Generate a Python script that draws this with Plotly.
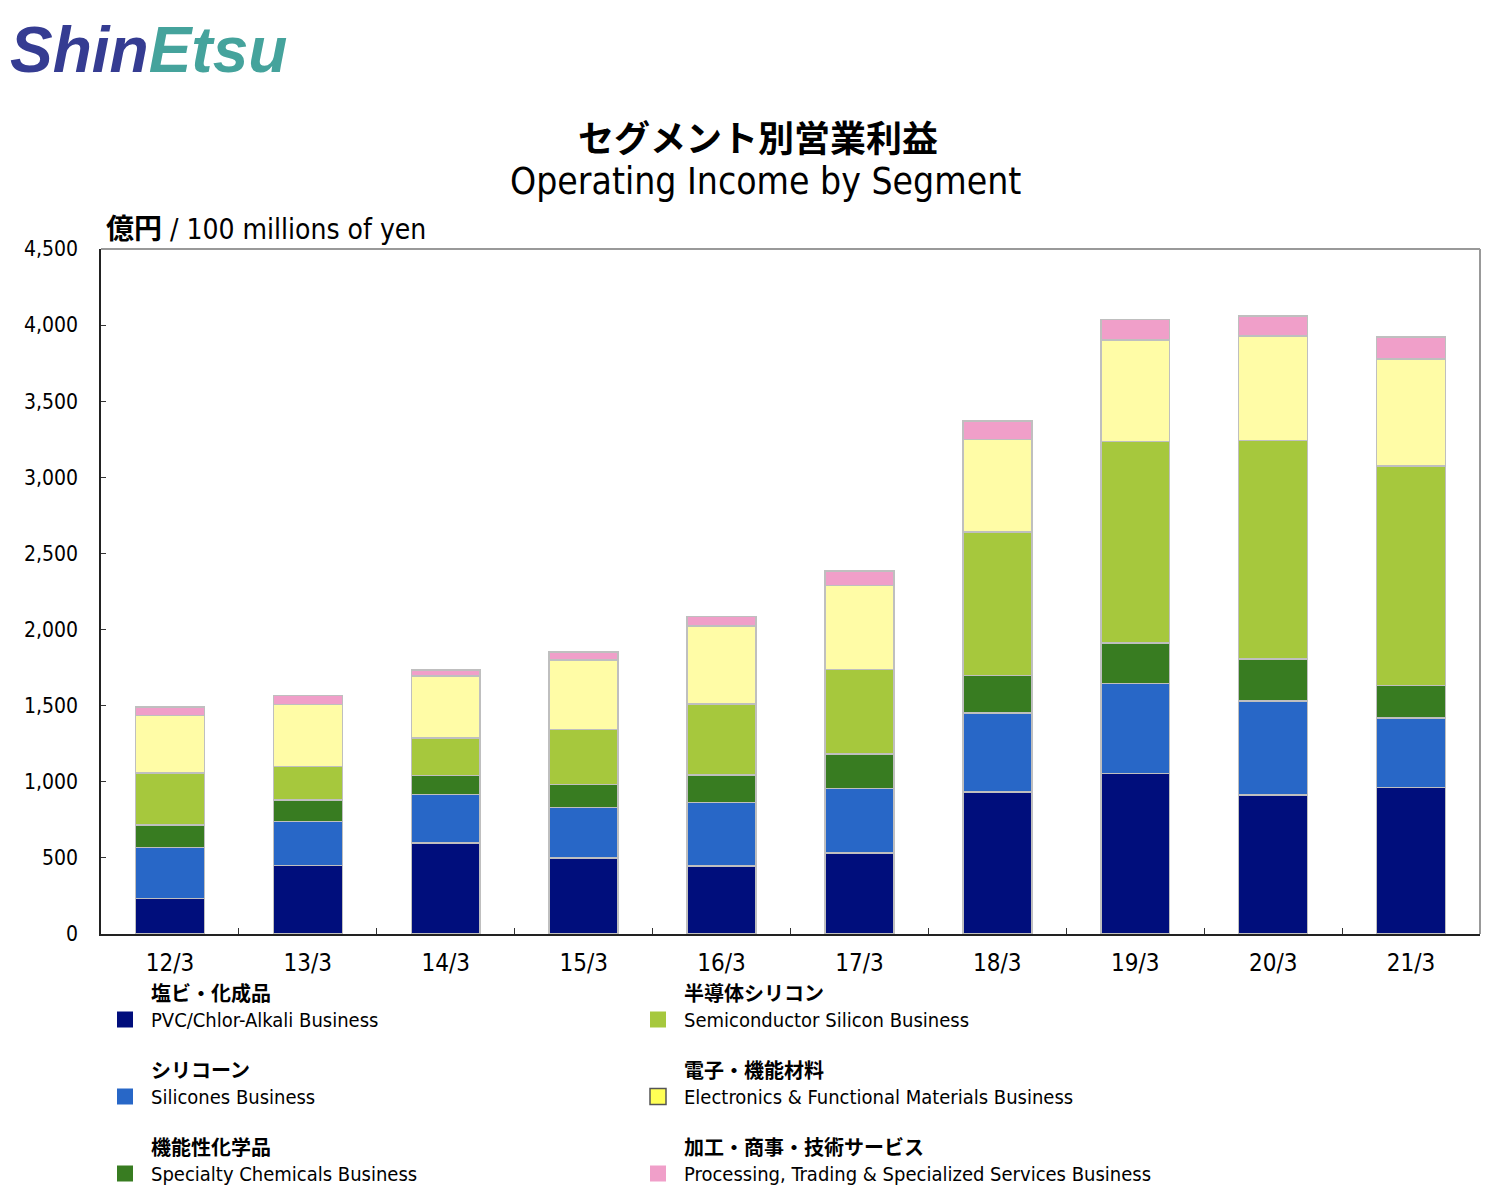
import plotly.graph_objs as go

# data (億円)
years = ['12/3', '13/3', '14/3', '15/3', '16/3', '17/3', '18/3', '19/3', '20/3', '21/3']
pvc = [233, 451, 598, 500, 446, 532, 932, 1056, 913, 962]
silicones = [336, 287, 319, 332, 418, 423, 520, 591, 618, 456]
specialty = [147, 142, 125, 149, 181, 226, 245, 265, 274, 215]
semicon = [343, 221, 245, 361, 466, 558, 943, 1325, 1437, 1442]
electronics = [376, 406, 409, 457, 513, 550, 610, 666, 685, 702]
processing = [55, 59, 37, 54, 61, 97, 120, 134, 133, 145]

names = ['<b>塩ビ・化成品</b><br>PVC/Chlor-Alkali Business',
         '<b>シリコーン</b><br>Silicones Business',
         '<b>機能性化学品</b><br>Specialty Chemicals Business',
         '<b>半導体シリコン</b><br>Semiconductor Silicon Business',
         '<b>電子・機能材料</b><br>Electronics & Functional Materials Business',
         '<b>加工・商事・技術サービス</b><br>Processing, Trading & Specialized Services Business']
colors = ['#000E7C', '#2867C7', '#387C21', '#A6C83D', '#FFFCA6', '#F09FC9']
legend_colors = ['#000E7C', '#2867C7', '#387C21', '#A6C83D', '#FFFF55', '#F09FC9']
series = [pvc, silicones, specialty, semicon, electronics, processing]

FONT = 'DejaVu Sans Condensed, Noto Sans CJK JP, sans-serif'

# page body has an 8px margin, so work in screen pixels and shift
OFF = 8
W, H = 1494 - 2 * OFF, 1196 - 2 * OFF
L, R, T, B = 101, 1480, 249, 934
def px(x):
    return (x - L) / (R - L)
def py(y):
    return (B - y) / (B - T)

data = []
for i, (n, c, s) in enumerate(zip(names, colors, series)):
    data.append(go.Bar(x=years, y=s, name=n, showlegend=False, legendgroup='g%d' % i,
                       marker=dict(color=c, line=dict(color='#BFBFBF', width=1.5))))
# legend entries (square swatches)
for i, (n, c) in enumerate(zip(names, legend_colors)):
    data.append(go.Scatter(x=[None], y=[None], mode='markers', name=n, legendgroup='g%d' % i,
                           legend='legend' if i < 3 else 'legend2',
                           marker=dict(symbol='square', size=16, color=c,
                                       line=dict(color='#555555' if i == 4 else c, width=1.5 if i == 4 else 0))))

leg = dict(orientation='v', traceorder='grouped', tracegroupgap=22, valign='bottom', itemwidth=42,
           font=dict(family=FONT, size=20, color='black'), bgcolor='rgba(0,0,0,0)',
           xanchor='left', yanchor='top')

def note(text, x, y, size, xanchor='center', family=FONT):
    return dict(text=text, x=px(x), y=py(y), xref='paper', yref='paper', xanchor=xanchor, yanchor='middle',
                showarrow=False, font=dict(family=family, size=size, color='black'))

layout = go.Layout(
    width=W, height=H,
    margin={'l': L - OFF, 'r': W - (R - OFF), 't': T - OFF, 'b': H - (B - OFF), 'autoexpand': False},
    paper_bgcolor='white', plot_bgcolor='white',
    barmode='stack', bargap=0.5,
    font=dict(family=FONT, size=22, color='black'),
    xaxis=dict(showline=True, linecolor='#222222', linewidth=1.5,
               ticks='inside', tickson='boundaries', ticklen=6, tickcolor='#333333',
               tickfont=dict(size=24), ticklabelstandoff=6),
    yaxis=dict(range=[0, 4500], dtick=500, tickformat=',', showgrid=False, zeroline=False,
               showline=True, linecolor='#222222', linewidth=1.5,
               ticks='inside', ticklen=5, tickcolor='#333333',
               tickfont=dict(size=21), ticklabelstandoff=17),
    legend=dict(leg, x=px(99), y=py(974)),
    legend2=dict(leg, x=px(632), y=py(974)),
    shapes=[dict(type='line', xref='paper', yref='paper', x0=0, x1=1, y0=1, y1=1,
                 line=dict(color='#999999', width=2)),
            dict(type='line', xref='paper', yref='paper', x0=1, x1=1, y0=0, y1=1,
                 line=dict(color='#999999', width=2))],
    annotations=[
        note('<b>セグメント別営業利益</b>', 758, 139, 36),
        note('Operating Income by Segment', 765, 181, 37),
        note('<b>億円</b> / 100 millions of yen', 104, 229, 28, xanchor='left'),
        dict(text="<b><i><span style='color:#353C92'>Shin</span><span style='color:#45A39C'>Etsu</span></i></b>",
             x=px(8), y=py(50), xref='paper', yref='paper', xanchor='left', yanchor='middle', showarrow=False,
             font=dict(family='Liberation Sans, sans-serif', size=64)),
    ],
)

fig = go.Figure(data, layout=layout)
fig.write_html('out.html')
